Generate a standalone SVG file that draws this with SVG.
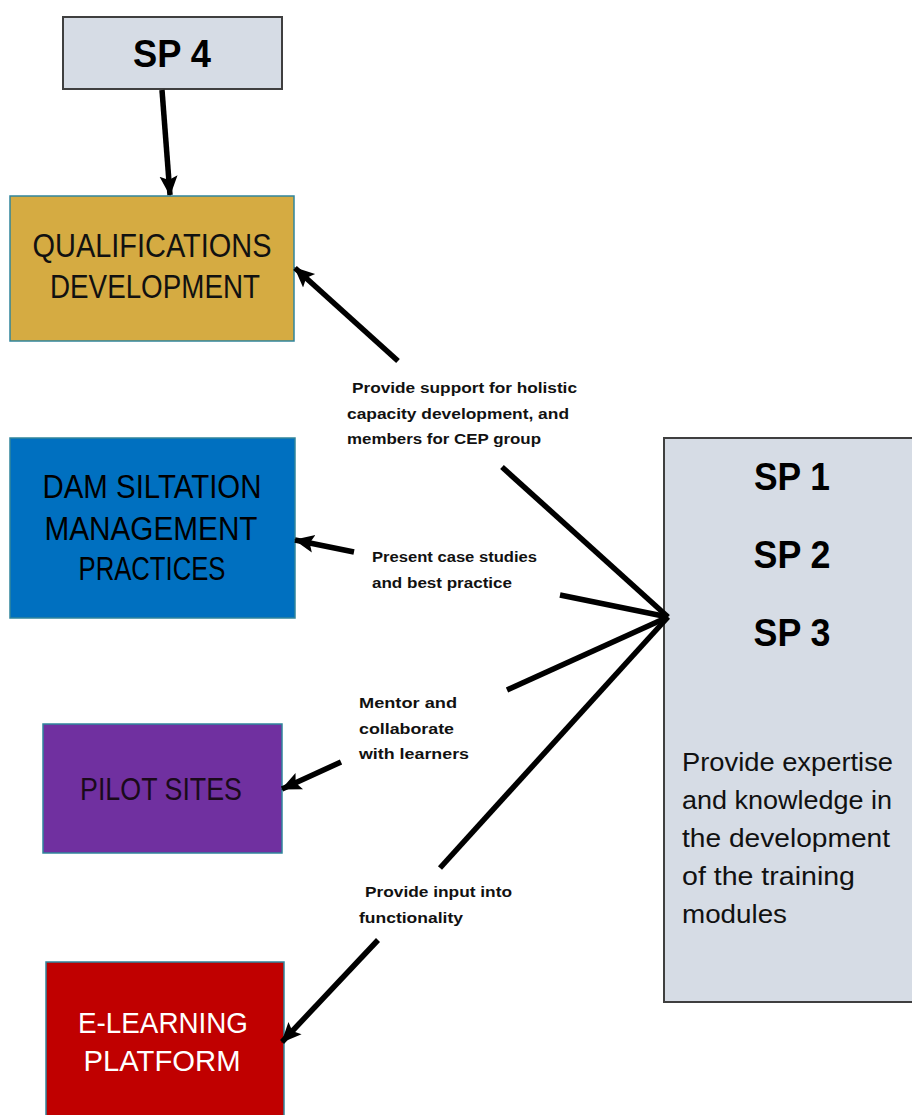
<svg xmlns="http://www.w3.org/2000/svg" width="912" height="1115" viewBox="0 0 912 1115">
  <style>
    .box-sp { fill: #D6DCE5; stroke: #3F3F3F; stroke-width: 2; }
    .box-c { stroke: #31859C; stroke-width: 1.5; }
    .big { font-family: "Liberation Sans", Arial, sans-serif; text-anchor: middle; }
    .spt { font-family: "Liberation Sans", Arial, sans-serif; font-weight: bold; font-size: 38px; text-anchor: middle; fill: #000; }
    .desc { font-family: "Liberation Sans", Arial, sans-serif; font-size: 25px; fill: #111; }
    .lbl { font-family: "Liberation Sans", Arial, sans-serif; font-weight: bold; font-size: 14px; fill: #111; }
    .conn { stroke: #000; stroke-width: 5.5; fill: none; stroke-linecap: butt; }
  </style>
  <defs>
    <marker id="head" markerUnits="userSpaceOnUse" markerWidth="22" markerHeight="22" viewBox="0 0 22 22" refX="19" refY="11" orient="auto">
      <path d="M0,2 L20,11 L0,20 L4,11 Z" fill="#000"/>
    </marker>
  </defs>
  <rect width="912" height="1115" fill="#fff"/>

  <g id="sp4">
    <rect class="box-sp" x="63" y="17" width="219" height="72"/>
    <text class="spt" x="172" y="67" textLength="78" lengthAdjust="spacingAndGlyphs">SP 4</text>
  </g>

  <g id="qualifications">
    <rect class="box-c" x="10" y="196" width="284" height="145" fill="#D5AB42"/>
    <text class="big" x="152" y="257" font-size="33" fill="#111" textLength="239" lengthAdjust="spacingAndGlyphs">QUALIFICATIONS</text>
    <text class="big" x="155" y="298" font-size="33" fill="#111" textLength="210" lengthAdjust="spacingAndGlyphs">DEVELOPMENT</text>
  </g>

  <g id="dam-siltation">
    <rect class="box-c" x="10" y="438" width="285" height="180" fill="#0070C0"/>
    <text class="big" x="152" y="498" font-size="34" fill="#000" textLength="219" lengthAdjust="spacingAndGlyphs">DAM SILTATION</text>
    <text class="big" x="151" y="540" font-size="34" fill="#000" textLength="213" lengthAdjust="spacingAndGlyphs">MANAGEMENT</text>
    <text class="big" x="152" y="580" font-size="34" fill="#000" textLength="147" lengthAdjust="spacingAndGlyphs">PRACTICES</text>
  </g>

  <g id="pilot-sites">
    <rect class="box-c" x="43" y="724" width="239" height="129" fill="#7030A0"/>
    <text class="big" x="161" y="800" font-size="32" fill="#1a0a1a" textLength="162" lengthAdjust="spacingAndGlyphs">PILOT SITES</text>
  </g>

  <g id="e-learning">
    <rect class="box-c" x="46" y="962" width="238" height="160" fill="#C00000"/>
    <text class="big" x="163" y="1033" font-size="30" fill="#fff" textLength="170" lengthAdjust="spacingAndGlyphs">E-LEARNING</text>
    <text class="big" x="162" y="1071" font-size="30" fill="#fff" textLength="157" lengthAdjust="spacingAndGlyphs">PLATFORM</text>
  </g>

  <g id="sp123">
    <rect class="box-sp" x="664" y="438" width="260" height="564"/>
    <text class="spt" x="792" y="490" textLength="76" lengthAdjust="spacingAndGlyphs">SP 1</text>
    <text class="spt" x="792" y="568" textLength="77" lengthAdjust="spacingAndGlyphs">SP 2</text>
    <text class="spt" x="792" y="646" textLength="77" lengthAdjust="spacingAndGlyphs">SP 3</text>
    <text class="desc" x="682" y="771" textLength="211" lengthAdjust="spacingAndGlyphs">Provide expertise</text>
    <text class="desc" x="682" y="809" textLength="210" lengthAdjust="spacingAndGlyphs">and knowledge in</text>
    <text class="desc" x="682" y="847" textLength="208" lengthAdjust="spacingAndGlyphs">the development</text>
    <text class="desc" x="682" y="885" textLength="173" lengthAdjust="spacingAndGlyphs">of the training</text>
    <text class="desc" x="682" y="923" textLength="105" lengthAdjust="spacingAndGlyphs">modules</text>
  </g>

  <g id="connectors">
    <line class="conn" x1="162" y1="90" x2="170" y2="195" marker-end="url(#head)"/>
    <!-- SP 1-3 to qualifications -->
    <line class="conn" x1="668" y1="617" x2="502" y2="467"/>
    <line class="conn" x1="398" y1="361" x2="295" y2="268" marker-end="url(#head)"/>
    <!-- SP 1-3 to dam siltation -->
    <line class="conn" x1="668" y1="617" x2="560" y2="595"/>
    <line class="conn" x1="354" y1="552" x2="295" y2="540" marker-end="url(#head)"/>
    <!-- SP 1-3 to pilot sites -->
    <line class="conn" x1="668" y1="617" x2="507" y2="690"/>
    <line class="conn" x1="341" y1="762" x2="282" y2="789" marker-end="url(#head)"/>
    <!-- SP 1-3 to e-learning -->
    <line class="conn" x1="668" y1="617" x2="440" y2="868"/>
    <line class="conn" x1="378" y1="940" x2="282" y2="1042" marker-end="url(#head)"/>
  </g>

  <g id="labels">
    <text class="lbl" x="352" y="393" textLength="225" lengthAdjust="spacingAndGlyphs">Provide support for holistic</text>
    <text class="lbl" x="347" y="419" textLength="222" lengthAdjust="spacingAndGlyphs">capacity development, and</text>
    <text class="lbl" x="347" y="444" textLength="194" lengthAdjust="spacingAndGlyphs">members for CEP group</text>
    <text class="lbl" x="372" y="562" textLength="165" lengthAdjust="spacingAndGlyphs">Present case studies</text>
    <text class="lbl" x="372" y="588" textLength="140" lengthAdjust="spacingAndGlyphs">and best practice</text>
    <text class="lbl" x="359" y="708" textLength="98" lengthAdjust="spacingAndGlyphs">Mentor and</text>
    <text class="lbl" x="359" y="734" textLength="95" lengthAdjust="spacingAndGlyphs">collaborate</text>
    <text class="lbl" x="359" y="759" textLength="110" lengthAdjust="spacingAndGlyphs">with learners</text>
    <text class="lbl" x="365" y="897" textLength="147" lengthAdjust="spacingAndGlyphs">Provide input into</text>
    <text class="lbl" x="359" y="923" textLength="104" lengthAdjust="spacingAndGlyphs">functionality</text>
  </g>
</svg>
